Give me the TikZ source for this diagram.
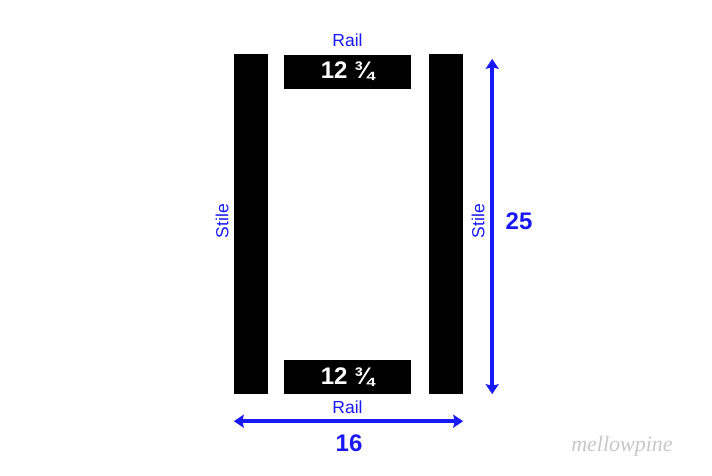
\documentclass[tikz,border=0pt]{standalone}
\usepackage{fontspec}
\setmainfont{Liberation Sans}
\newfontfamily\markfont{Liberation Serif}
\usetikzlibrary{arrows.meta,positioning}
\definecolor{dimblue}{RGB}{25,25,245}

\begin{document}
\begin{tikzpicture}[x=1pt,y=-1pt,>={Stealth[width=13pt,length=10pt,inset=1.5pt]},
  stile node/.style={fill=black,minimum width=34pt,minimum height=340pt,inner sep=0pt},
  rail node/.style={fill=black,minimum width=127pt,minimum height=34pt,inner sep=0pt,
    text=white,font=\fontsize{24}{24}\selectfont\bfseries},
  label node/.style={text=dimblue,inner sep=0pt,font=\fontsize{17.5}{17.5}\selectfont},
  size node/.style={text=dimblue,inner sep=0pt,font=\fontsize{24}{24}\selectfont\bfseries},
  dim line/.style={draw=dimblue,line width=3.5pt,<->}]

  \useasboundingbox (0,0) rectangle (712,475);

  % frame parts
  \node[stile node] (ls) at (251,224) {};
  \node[stile node] (rs) at (446,224) {};
  \node[rail node] (tr) at (347.5,71.5) {12 ¾};
  \node[rail node] (br) at (347.5,377) {12 ¾};

  % part names
  \node[label node] (trl) [above=7pt of tr] {Rail};
  \node[label node] (brl) [below=6pt of br] {Rail};
  \node[label node,rotate=90] (lsl) at (222,221) {Stile};
  \node[label node,rotate=90] (rsl) at (478,221) {Stile};

  % dimensions
  \coordinate (ht) at ([xshift=29pt,yshift=-5pt]rs.north east);
  \coordinate (hb) at ([xshift=29pt]rs.south east);
  \coordinate (wl) at ([yshift=-27pt]ls.south west);
  \coordinate (wr) at ([yshift=-27pt]rs.south east);
  \draw[dim line] (ht) -- (hb);
  \draw[dim line] (wl) -- (wr);
  \node[size node] (h) at (519,221) {25};
  \node[size node] (w) at (349,443) {16};

  \node[text=black!22,font=\markfont\itshape\fontsize{22}{22}\selectfont] (mark) at (622,446) {mellowpine};
\end{tikzpicture}
\end{document}
